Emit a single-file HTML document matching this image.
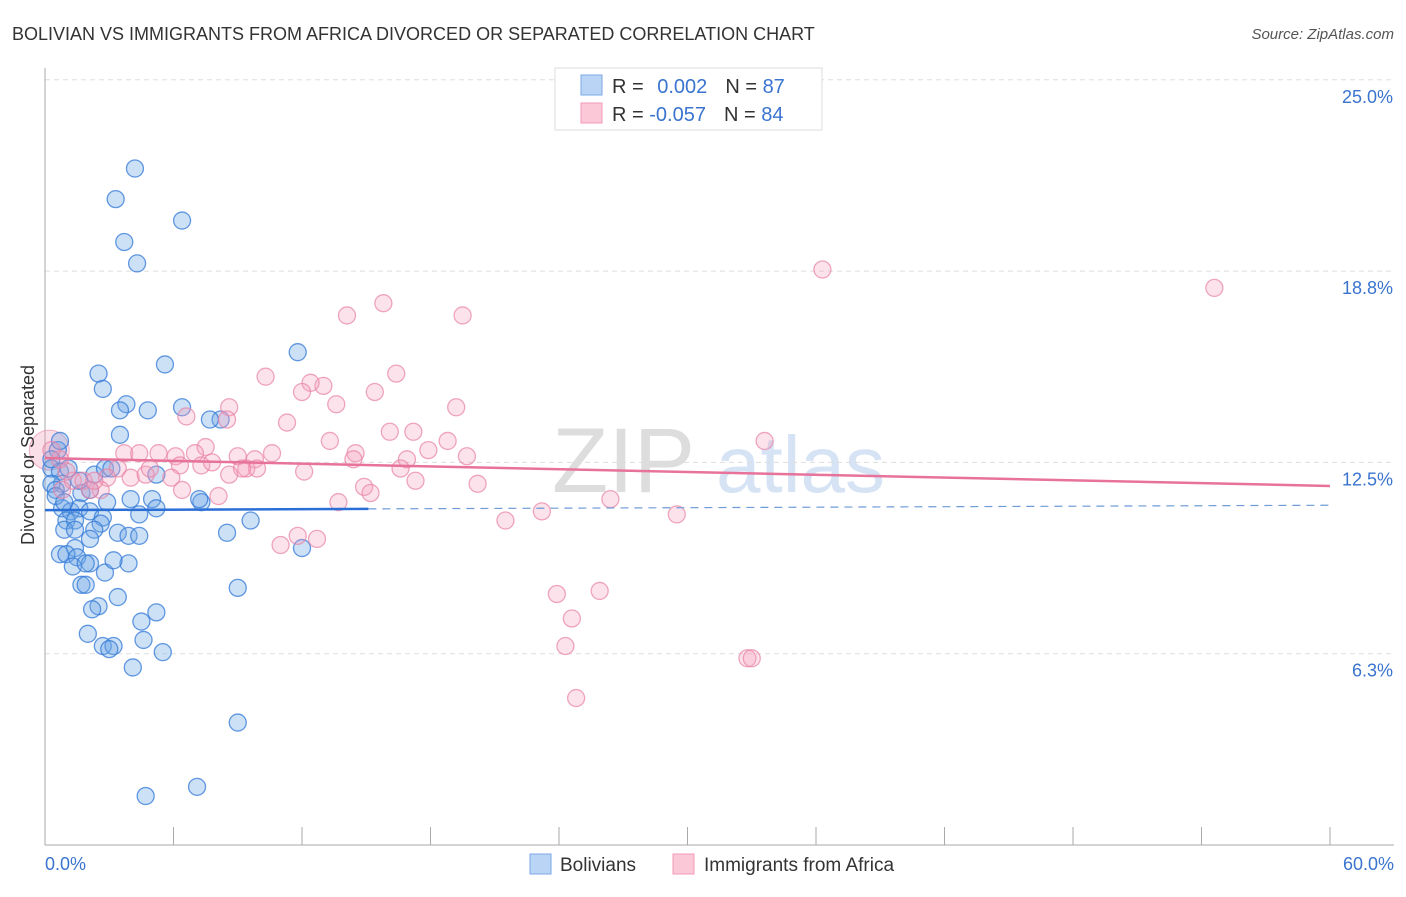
<!DOCTYPE html>
<html><head><meta charset="utf-8"><style>
body{margin:0;background:#fff;font-family:"Liberation Sans",sans-serif;}
svg text{font-family:"Liberation Sans",sans-serif;}
</style></head><body>
<svg id="c" width="1406" height="892" xmlns="http://www.w3.org/2000/svg">
<text x="12" y="40" font-size="18" fill="#333">BOLIVIAN VS IMMIGRANTS FROM AFRICA DIVORCED OR SEPARATED CORRELATION CHART</text>
<text x="1394" y="39" font-size="15" fill="#555" font-style="italic" text-anchor="end">Source: ZipAtlas.com</text>
<g><text x="552" y="492" font-size="92" fill="#ddd" font-family="Liberation Serif">ZIP</text><text x="716" y="492" font-size="80" fill="#d5e3f5">atlas</text></g>
<g id="grid"></g><g id="axes"></g><g id="pts"></g><g id="trend"></g>
<text transform="translate(34,455) rotate(-90)" font-size="18" fill="#333" text-anchor="middle">Divorced or Separated</text>
<g>
<rect x="555" y="68" width="267" height="62" fill="#fff" stroke="#ddd"/>
<rect x="581" y="75" width="21" height="20" fill="#b9d4f5" stroke="#7aa8e6"/>
<rect x="581" y="103" width="21" height="20" fill="#fbc8d8" stroke="#f09ab6"/>
<text x="612" y="93" font-size="20" fill="#333">R = <tspan fill="#3a74cf" dx="8">0.002</tspan><tspan dx="18" fill="#333">N = </tspan><tspan fill="#3a74cf">87</tspan></text>
<text x="612" y="121" font-size="20" fill="#333">R = <tspan fill="#3a74cf">-0.057</tspan><tspan dx="18" fill="#333">N = </tspan><tspan fill="#3a74cf">84</tspan></text>
</g>
<g>
<rect x="530" y="854" width="21" height="20" fill="#b9d4f5" stroke="#7aa8e6"/>
<text x="560" y="871" font-size="19" fill="#333">Bolivians</text>
<rect x="673" y="854" width="21" height="20" fill="#fbc8d8" stroke="#f09ab6"/>
<text x="704" y="871" font-size="19" fill="#333">Immigrants from Africa</text>
</g>
</svg>
<script>
const yTicks=[6.25,12.5,18.75,25];
const yTickLabels=["6.3%","12.5%","18.8%","25.0%"];
const xTicks=[0,6,12,18,24,30,36,42,48,54,60];
const blueX=[4.2,3.3,6.4,3.7,4.3,5.6,11.8,2.5,2.7,3.8,3.5,4.8,6.4,8.2,3.5,5.2,2.3,2.8,0.6,0.3,0.7,0.8,1.7,2.1,2.9,4.0,5.0,5.2,4.4,7.3,0.8,1.2,1.6,2.1,2.7,1.0,1.4,2.6,2.3,3.4,0.9,1.4,3.9,4.4,8.5,9.6,1.4,0.7,1.0,1.5,1.3,2.1,1.9,3.9,2.8,1.7,1.9,3.4,2.5,2.2,5.2,9.0,4.5,2.0,2.7,3.2,3.0,4.6,5.5,4.1,9.0,4.7,7.1,12.0,7.7,0.7,0.3,0.5,1.6,3.1,7.2,1.1,0.3,0.5,0.9,2.1,3.2];
const blueY=[22.1,21.1,20.4,19.7,19.0,15.7,16.1,15.4,14.9,14.4,14.2,14.2,14.3,13.9,13.4,12.1,12.1,12.3,12.9,12.3,12.2,11.8,11.5,11.6,11.2,11.3,11.3,11.0,10.8,11.2,11.0,10.9,11.0,10.9,10.7,10.6,10.6,10.5,10.3,10.2,10.3,10.3,10.1,10.1,10.2,10.6,9.7,9.5,9.5,9.4,9.1,9.2,9.2,9.2,8.9,8.5,8.5,8.1,7.8,7.7,7.6,8.4,7.3,6.9,6.5,6.5,6.4,6.7,6.3,5.8,4.0,1.6,1.9,9.7,13.9,13.2,11.8,11.6,11.9,12.3,11.3,12.3,12.6,11.4,11.2,10.0,9.3];
const pinkX=[36.3,54.6,15.8,14.1,19.5,10.3,16.4,13.0,12.4,12.0,13.6,15.4,11.3,8.6,8.5,6.6,19.2,16.1,17.2,13.3,18.8,17.9,33.6,14.5,14.4,19.7,16.9,7.5,3.7,4.4,5.3,7.0,9.0,9.8,10.6,7.3,7.8,6.1,6.3,9.4,9.9,9.2,12.1,16.6,17.3,20.2,14.9,15.2,13.7,8.1,6.4,5.9,3.4,2.9,4.0,4.7,2.6,1.3,1.8,2.1,1.0,0.7,0.3,11.0,11.8,12.7,26.4,23.2,21.5,29.5,23.9,25.9,24.6,24.3,32.8,33.0,24.8,2.3,0.8,4.9,8.6];
const pinkY=[18.8,18.2,17.7,17.3,17.3,15.3,15.4,15.0,15.1,14.8,14.4,14.8,13.8,14.3,13.9,14.0,14.3,13.5,13.5,13.2,13.2,12.9,13.2,12.8,12.6,12.7,12.6,13.0,12.8,12.8,12.8,12.8,12.7,12.6,12.8,12.4,12.5,12.7,12.4,12.3,12.3,12.3,12.2,12.3,11.9,11.8,11.7,11.5,11.2,11.4,11.6,12.0,12.3,12.0,12.0,12.1,11.6,11.9,11.9,11.6,12.2,12.6,12.9,9.8,10.1,10.0,11.3,10.9,10.6,10.8,8.2,8.3,7.4,6.5,6.1,6.1,4.8,11.9,11.6,12.3,12.1];
const pinkBigX=[0.2];
const pinkBigY=[12.9];
const blueTrend=[10.94,11.1];
const blueSolidEnd=15.1;
const pinkTrend=[12.64,11.73];

const NS="http://www.w3.org/2000/svg";
const sx=v=>45+v*(1285/60);
const sy=v=>845-v*30.61;
function mk(tag,attrs,parent){const e=document.createElementNS(NS,tag);for(const k in attrs)e.setAttribute(k,attrs[k]);parent.appendChild(e);return e;}
const grid=document.getElementById('grid'),axes=document.getElementById('axes'),pts=document.getElementById('pts'),trend=document.getElementById('trend');
yTicks.forEach((t,i)=>{
 const l=mk('line',{x1:45,x2:1394,y1:sy(t),y2:sy(t),stroke:'#ddd','stroke-dasharray':'5,4'},grid);
 
 
 const tx=mk('text',{x:1393,y:sy(t)+23,'font-size':18,fill:'#3a74cf','text-anchor':'end'},grid);
 tx.textContent=yTickLabels[i];
 
 
});
const ya=mk('line',{x1:45,x2:45,y1:68,y2:845,stroke:'#aaa'},axes);


const xa=mk('line',{x1:45,x2:1394,y1:845,y2:845,stroke:'#aaa'},axes);


xTicks.forEach(t=>{
 const l=mk('line',{x1:sx(t),x2:sx(t),y1:827,y2:845,stroke:'#aaa'},axes);
 
 
});
const x0=mk('text',{x:45,y:870,'font-size':18,fill:'#3a74cf'},axes);x0.textContent='0.0%';


const x1=mk('text',{x:1394,y:870,'font-size':18,fill:'#3a74cf','text-anchor':'end'},axes);x1.textContent='60.0%';


pinkBigX.forEach((x,i)=>{
 const c=mk('circle',{cx:sx(x),cy:sy(pinkBigY[i]),r:20,fill:'rgba(240,150,180,0.3)',stroke:'rgba(232,130,165,0.6)'},pts);
 
 
});
blueX.forEach((x,i)=>{
 const c=mk('circle',{cx:sx(x),cy:sy(blueY[i]),r:8.5,fill:'rgba(110,165,230,0.35)',stroke:'rgba(50,120,215,0.75)','stroke-width':1.3},pts);
 
 
});
pinkX.forEach((x,i)=>{
 const c=mk('circle',{cx:sx(x),cy:sy(pinkY[i]),r:8.5,fill:'rgba(245,160,190,0.3)',stroke:'rgba(232,130,165,0.7)','stroke-width':1.3},pts);
 
 
});
const bAt=x=>blueTrend[0]+(blueTrend[1]-blueTrend[0])*x/60;
const bs=mk('line',{x1:sx(0),y1:sy(bAt(0)),x2:sx(blueSolidEnd),y2:sy(bAt(blueSolidEnd)),stroke:'#2a6fd6','stroke-width':2.5},trend);


const bd=mk('line',{x1:sx(blueSolidEnd),y1:sy(bAt(blueSolidEnd)),x2:sx(60),y2:sy(bAt(60)),stroke:'#6f9bd8','stroke-width':1.2,'stroke-dasharray':'8,6'},trend);


const pl=mk('line',{x1:sx(0),y1:sy(pinkTrend[0]),x2:sx(60),y2:sy(pinkTrend[1]),stroke:'#e8739a','stroke-width':2.5},trend);


</script>
</body></html>
